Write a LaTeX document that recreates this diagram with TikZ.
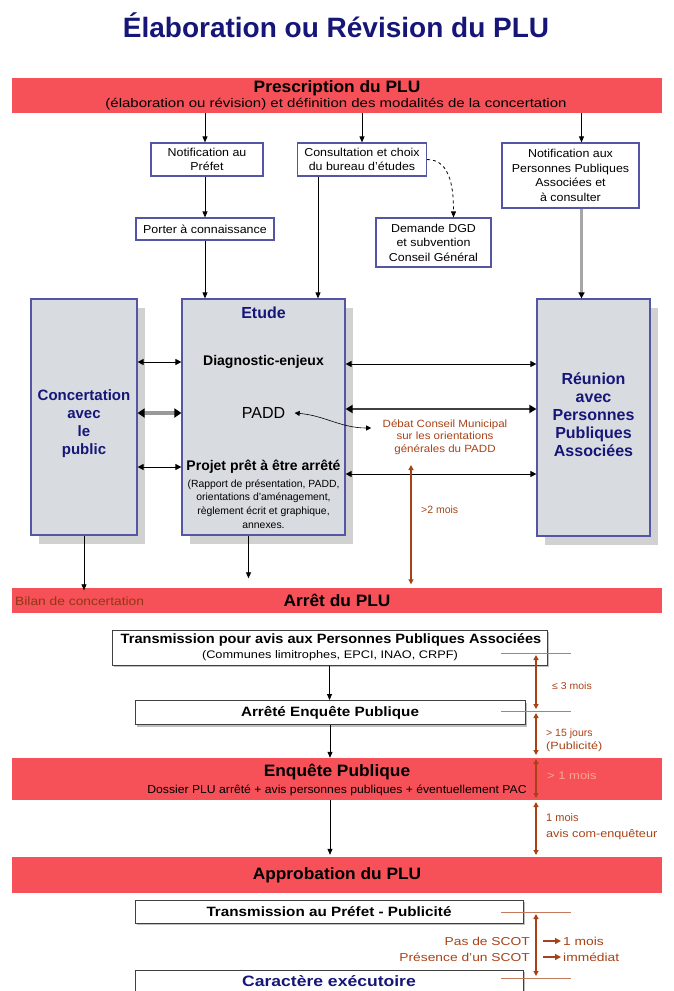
\documentclass[tikz,border=0pt]{standalone}
\usepackage{fontspec}
\setmainfont{Liberation Sans}
\usetikzlibrary{arrows.meta,shadows}

\definecolor{barred}{RGB}{246,80,88}
\definecolor{navy}{RGB}{22,22,120}
\definecolor{frame}{RGB}{85,85,165}
\definecolor{panelgray}{RGB}{216,220,224}
\definecolor{rust}{RGB}{168,66,22}
\definecolor{rustlight}{RGB}{252,165,145}

\newcommand{\fsz}[2]{\fontsize{#1}{#2}\selectfont}
\newcommand{\stretchx}[1]{\addfontfeature{FakeStretch=#1}}

\tikzset{
  titre/.style={font=\fsz{28}{32}\bfseries, text=navy},
  bar/.style={fill=barred, minimum width=650, inner sep=0},
  bartitle/.style={font=\fsz{16.5}{18}\bfseries\stretchx{1.05}, inner sep=0},
  barsub/.style={font=\fsz{12.5}{14}\stretchx{1.2}, inner sep=0},
  smallbox/.style={draw=frame, fill=white, line width=1.2, align=center, inner sep=1, font=\fsz{11.5}{14.5}\stretchx{1.08}},
  panel/.style={draw=frame, fill=panelgray, line width=1.2,
    drop shadow={shadow xshift=8pt, shadow yshift=-9pt, fill=black!18, opacity=1}},
  paneltitle/.style={align=center, font=\fsz{15}{18}\bfseries, text=navy},
  inside/.style={font=\fsz{14}{16}\bfseries},
  paddtext/.style={font=\fsz{16}{18}},
  pieces/.style={align=center, font=\fsz{10.4}{13.6}},
  debat/.style={align=center, text=rust, font=\fsz{10.5}{12.5}\stretchx{1.1}},
  lowbox/.style={draw=black!75, fill=white, line width=1,
    drop shadow={shadow xshift=2pt, shadow yshift=-2pt, fill=black!25, opacity=1}},
  lowtitle/.style={font=\fsz{13.5}{15}\bfseries\stretchx{1.13}},
  lowsub/.style={font=\fsz{11}{13}\stretchx{1.16}},
  timelabel/.style={anchor=west, text=rust, font=\fsz{10}{13}, align=left, inner sep=0},
  arr/.style={-{Triangle[length=6pt,width=5pt]}, line width=0.8},
  dblarr/.style={{Triangle[length=6pt,width=6pt]}-{Triangle[length=6pt,width=6pt]}, line width=1},
  rustarr/.style={rust, line width=1.2, {Triangle[length=5pt,width=5pt]}-{Triangle[length=5pt,width=5pt]}},
}

\begin{document}
\begin{tikzpicture}[x=1pt,y=-1pt]
    \useasboundingbox (0,0) rectangle (673,991);

    \node[titre] (titre) at (336,25) {Élaboration ou Révision du PLU};

    % prescription
    \node[bar, minimum height=35] (presc) at (337,95.5) {};
    \node[bartitle] (prescT) at (337,88) {Prescription du PLU};
    \node[barsub] (prescS) at (336,104) {(élaboration ou révision) et définition des modalités de la concertation};

    \node[smallbox, minimum width=112, minimum height=33] (notif) at (207,159.5) {Notification au\\Préfet};
    \node[smallbox, minimum width=138, minimum height=22] (porter) at (205,229) {Porter à connaissance};
    \node[smallbox, minimum width=129, minimum height=33] (consult) at (362,159.5) {Consultation et choix\\du bureau d'études};
    \node[smallbox, minimum width=115, minimum height=49] (dgd) at (433.5,242.5) {Demande DGD\\et subvention\\Conseil Général};
    \node[smallbox, minimum width=137, minimum height=65] (notifppa) at (570.5,175.5) {Notification aux\\Personnes Publiques\\Associées et\\à consulter};

    % etude
    \node[panel, minimum width=106, minimum height=236] (conc) at (84,417) {};
    \node[paneltitle] (concT) at (84,424) {Concertation\\avec\\le\\public};
    \node[panel, minimum width=163, minimum height=236] (etude) at (263.5,417) {};
    \node[paneltitle, font=\fsz{16}{18}\bfseries] (etudeT) at (263.5,313) {Etude};
    \node[inside] (diag) at (263.5,362) {Diagnostic-enjeux};
    \node[paddtext] (padd) at (263.5,413) {PADD};
    \node[inside] (projet) at (263.5,467) {Projet prêt à être arrêté};
    \node[pieces] (pieces) at (263.5,504) {(Rapport de présentation, PADD,\\orientations d'aménagement,\\règlement écrit et graphique,\\annexes.};
    \node[panel, minimum width=113, minimum height=237] (reunion) at (593.5,417.5) {};
    \node[paneltitle, font=\fsz{16}{18}\bfseries] (reunionT) at (593.5,415) {Réunion\\avec\\Personnes\\Publiques\\Associées};
    \node[debat] (debat) at (445,437) {Débat Conseil Municipal\\sur les orientations\\générales du PADD};
    \node[timelabel, font=\fsz{10.5}{13}] (deuxmois) at (421,510) {>2 mois};

    \draw[arr] (porter.north |- presc.south) -- (porter.north |- notif.north);
    \draw[arr] (porter.north |- notif.south) -- (porter.north);
    \draw[arr] (porter.south) -- (porter.south |- etude.north);
    \draw[arr] (consult.north |- presc.south) -- (consult.north);
    \draw[arr] ([xshift=-44]consult.south) -- ([xshift=-44]consult.south |- etude.north);
    \draw[arr, dashed] (consult.east) to[out=0, in=90] ([xshift=20]dgd.north);
    \draw[arr] ([xshift=11]notifppa.north |- presc.south) -- ([xshift=11]notifppa.north);
    \draw[black!35, line width=2.5, -{Triangle[length=6pt,width=6pt,color=black]}]
        ([xshift=11]notifppa.south) -- ([xshift=11]notifppa.south |- reunion.north);

    % echanges
    \foreach \t in {diag, projet}
        \draw[dblarr] (conc.east |- \t) -- (etude.west |- \t);
    \draw[black!40, line width=4, {Triangle[length=7pt,width=9pt,color=black]}-{Triangle[length=7pt,width=9pt,color=black]}]
        (conc.east |- padd) -- (etude.west |- padd);
    \draw[dblarr] ([yshift=-2]etude.east |- diag) -- ([yshift=-2]reunion.west |- diag);
    \draw[black!75, line width=2.5, {Triangle[length=7pt,width=8pt,color=black]}-{Triangle[length=7pt,width=8pt,color=black]}]
        ([yshift=4]etude.east |- padd) -- ([yshift=4]reunion.west |- padd);
    \draw[dblarr] ([yshift=-7]etude.east |- projet) -- ([yshift=-7]reunion.west |- projet);
    \draw[{Triangle[length=5pt,width=5pt]}-{Triangle[length=5pt,width=5pt]}, line width=0.6]
        ([xshift=6]padd.east) to[out=-5, in=180] ([xshift=-8, yshift=9]debat.west);

    % arret
    \node[bar, minimum height=25] (arret) at (337,600) {};
    \node[bartitle] (arretT) at (337,600) {Arrêt du PLU};
    \node[anchor=west, text=rust!85!black, font=\fsz{12}{13}\stretchx{1.15}, inner sep=0] (bilan) at (15,601) {Bilan de concertation};
    \coordinate (mois) at (411,465);
    \draw[rustarr] (mois) -- ([yshift=3]mois |- arret.north);
    \draw[arr] (conc.south) -- ([yshift=-3]conc.south |- arret.north);
    \draw[arr] ([xshift=-15]etude.south) -- ([xshift=-15, yshift=9]etude.south |- arret.north);

    % consultation et enquete
    \node[lowbox, minimum width=435, minimum height=35] (trans) at (329.5,647.5) {};
    \node[lowtitle, font=\fsz{13.5}{15}\bfseries\stretchx{1.08}] (transT) at (331,640) {Transmission pour avis aux Personnes Publiques Associées};
    \node[lowsub] (transS) at (330,656) {(Communes limitrophes, EPCI, INAO, CRPF)};
    \node[lowbox, lowtitle, minimum width=390, minimum height=24] (arrete) at (330,712.5) {Arrêté Enquête Publique};
    \node[bar, minimum height=42] (enq) at (337,779) {};
    \node[bartitle] (enqT) at (337,772) {Enquête Publique};
    \node[barsub, font=\fsz{11.5}{13}\stretchx{1.06}] (enqS) at (337,790) {Dossier PLU arrêté + avis personnes publiques + éventuellement PAC};
    \node[bar, bartitle, minimum height=36] (appro) at (337,875) {Approbation du PLU};
    \node[lowbox, lowtitle, minimum width=388, minimum height=23] (prefet) at (329,911.5) {Transmission au Préfet - Publicité};
    \node[lowbox, text=navy, font=\fsz{15}{17}\bfseries\stretchx{1.17}, minimum width=388, minimum height=23] (exec) at (329,981.5) {Caractère exécutoire};

    \draw[arr] (trans.south) -- (trans.south |- arrete.north);
    \draw[arr] (arrete.south) -- (arrete.south |- enq.north);
    \draw[arr] (arrete.south |- enq.south) -- ([yshift=2]arrete.south |- appro.north);

    % delais
    \foreach \n/\y in {t1/653, t2/711, t3/757, t4/800, t5/857, t6/912, t7/978}
        \coordinate (\n) at (536,\y);
    \foreach \n in {t1, t2, t6, t7}
        \draw[rust!70, line width=0.8] ([xshift=-35]\n) -- ([xshift=35]\n);
    \foreach \a/\b in {t1/t2, t2/t3, t3/t4, t4/t5, t6/t7}
        \draw[rustarr] ([yshift=-2]\a) -- ([yshift=2]\b);

    \node[timelabel, font=\fsz{10}{13}\stretchx{1.05}] (l1) at (552,686) {≤ 3 mois};
    \node[timelabel, font=\fsz{10.5}{13}] (l2) at (546,734) {> 15 jours};
    \node[timelabel, font=\fsz{10.5}{12}\stretchx{1.2}] (l2b) at (546,747) {(Publicité)};
    \node[timelabel, text=rustlight, font=\fsz{11}{13}\stretchx{1.18}] (l3) at (547,776) {> 1 mois};
    \node[timelabel, font=\fsz{11}{13}] (l4) at (546,818) {1 mois};
    \node[timelabel, font=\fsz{11}{13}\stretchx{1.15}] (l4b) at (546,835) {avis com-enquêteur};
    \node[timelabel, anchor=east, font=\fsz{11.5}{13}\stretchx{1.2}] (scot1) at (530,941) {Pas de SCOT};
    \node[timelabel, anchor=east, font=\fsz{11.5}{13}\stretchx{1.2}] (scot2) at (530,957) {Présence d'un SCOT};
    \node[timelabel, font=\fsz{11.5}{13}\stretchx{1.2}] (r1) at (563,941) {1 mois};
    \node[timelabel, font=\fsz{11.5}{13}\stretchx{1.2}] (r2) at (563,957) {immédiat};
    \draw[rust, line width=1.2, -{Triangle[length=6pt,width=6pt]}] ([xshift=-20]r1.west) -- ([xshift=-2]r1.west);
    \draw[rust, line width=1.2, -{Triangle[length=6pt,width=6pt]}] ([xshift=-20]r2.west) -- ([xshift=-2]r2.west);
\end{tikzpicture}
\end{document}
